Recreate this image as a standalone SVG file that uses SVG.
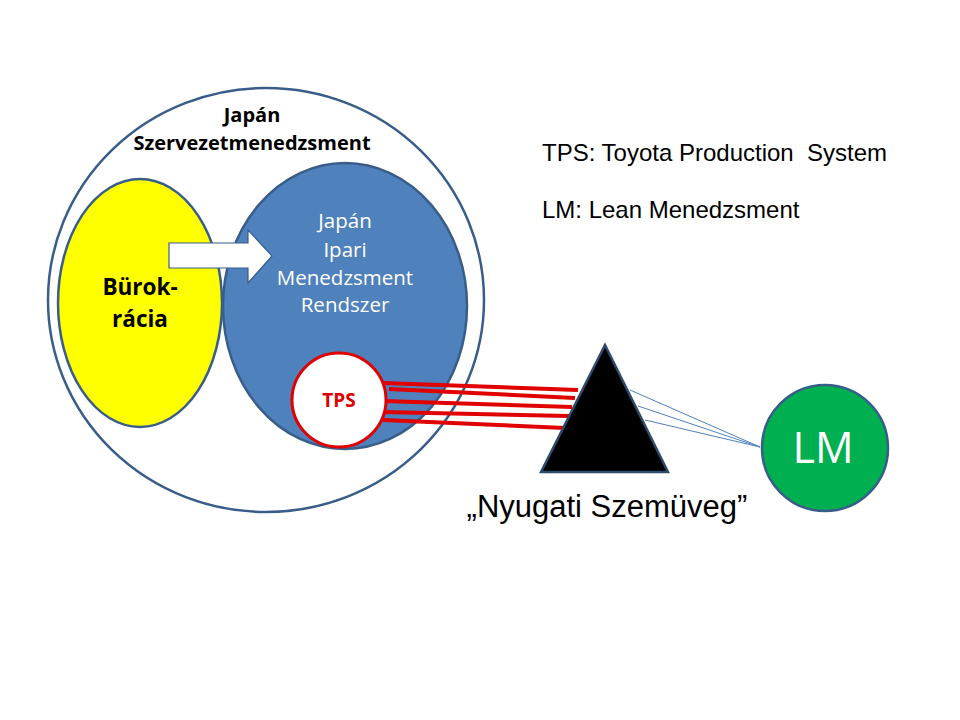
<svg xmlns="http://www.w3.org/2000/svg" width="960" height="720" viewBox="0 0 960 720">
<style>
.cal{font-family:"Open Sans",Lato,"Liberation Sans",sans-serif}
.ari{font-family:"Liberation Sans",Arial,sans-serif}
.outl{stroke:#385D8A;stroke-width:2.5}
.red{stroke:#E00000;stroke-width:4;stroke-linecap:butt;fill:none}
.thin{stroke:#4F81BD;stroke-width:1;fill:none}
</style>
<rect x="0" y="0" width="960" height="720" fill="#FFFFFF"/>
<g id="outer">
<ellipse cx="266" cy="300" rx="218" ry="212" fill="#FFFFFF" class="outl"/>
<text class="cal" x="252" y="122" font-size="20" font-weight="bold" text-anchor="middle" fill="#000000">Japán</text>
<text class="cal" x="252" y="150" font-size="20" font-weight="bold" text-anchor="middle" fill="#000000">Szervezetmenedzsment</text>
</g>
<g id="burokracia">
<ellipse cx="140" cy="303" rx="82" ry="124" fill="#FFFF00" class="outl"/>
<text class="cal" x="140" y="295" font-size="22.5" font-weight="bold" text-anchor="middle" fill="#000000">Bürok-</text>
<text class="cal" x="140" y="327" font-size="22.5" font-weight="bold" text-anchor="middle" fill="#000000">rácia</text>
</g>
<g id="japan-ipari">
<ellipse cx="345" cy="306" rx="122" ry="143" fill="#4F81BD" class="outl"/>
<text class="cal" x="345" y="228" font-size="20.5" font-weight="500" text-anchor="middle" fill="#FFFFFF">Japán</text>
<text class="cal" x="345" y="257" font-size="20.5" font-weight="500" text-anchor="middle" fill="#FFFFFF">Ipari</text>
<text class="cal" x="345" y="285" font-size="20.5" font-weight="500" text-anchor="middle" fill="#FFFFFF">Menedzsment</text>
<text class="cal" x="345" y="312" font-size="20.5" font-weight="500" text-anchor="middle" fill="#FFFFFF">Rendszer</text>
</g>
<g id="arrow">
<polygon points="169,243 248,243 248,230 272,256 248,283 248,268 169,268" fill="#FFFFFF" stroke="#385D8A" stroke-width="1.2"/>
</g>
<g id="connectors">
<line class="red" x1="383" y1="383" x2="578" y2="390"/>
<line class="red" x1="389" y1="389" x2="575" y2="398"/>
<line class="red" x1="383" y1="401" x2="572" y2="407"/>
<line class="red" x1="383" y1="412" x2="569" y2="416"/>
<line class="red" x1="383" y1="420" x2="565" y2="428"/>
<line class="thin" x1="630" y1="390" x2="760" y2="447"/>
<line class="thin" x1="638" y1="406" x2="760" y2="447"/>
<line class="thin" x1="645" y1="420" x2="760" y2="447"/>
</g>
<g id="tps">
<circle cx="339" cy="400" r="47" fill="#FFFFFF" stroke="#E00000" stroke-width="3"/>
<text class="cal" x="339" y="407" font-size="19" font-weight="bold" text-anchor="middle" fill="#E00000">TPS</text>
</g>
<g id="prism">
<polygon points="605,345 541,472 668,472" fill="#000000" stroke="#2F4B6E" stroke-width="2.5" stroke-linejoin="miter"/>
<text class="ari" x="607" y="517" font-size="31" text-anchor="middle" fill="#000000">„Nyugati Szemüveg”</text>
</g>
<g id="lm">
<circle cx="825" cy="448" r="63" fill="#00B050" class="outl"/>
<text class="cal" x="823" y="463" font-size="43" text-anchor="middle" fill="#FFFFFF">LM</text>
</g>
<g id="legend">
<text class="ari" x="542" y="161" font-size="24" fill="#000000" xml:space="preserve">TPS: Toyota Production  System</text>
<text class="ari" x="542" y="218" font-size="24" fill="#000000">LM: Lean Menedzsment</text>
</g>
</svg>
